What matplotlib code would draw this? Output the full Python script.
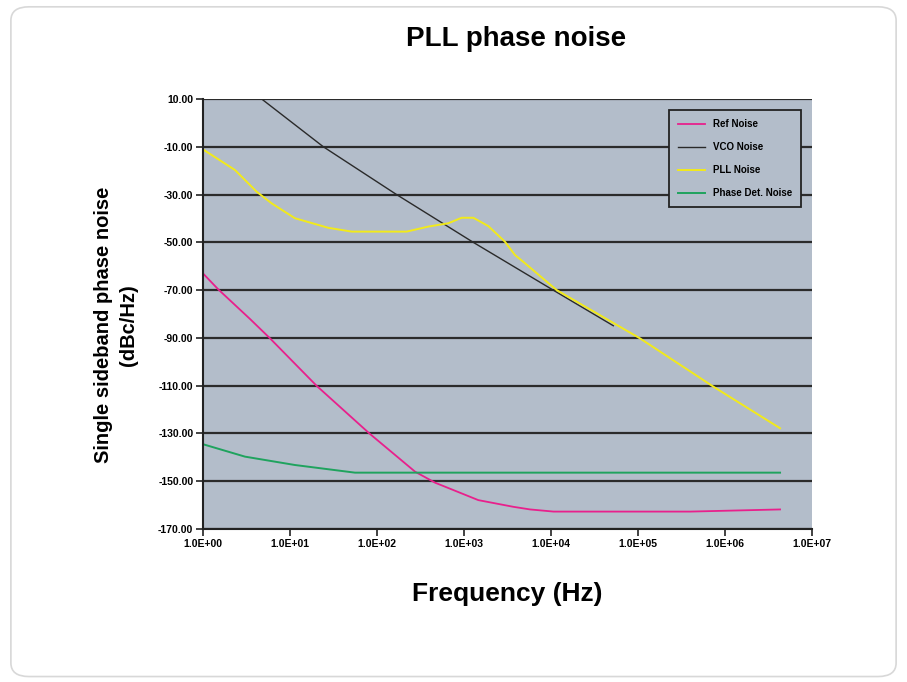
import matplotlib
matplotlib.use("Agg")
import matplotlib.pyplot as plt
from matplotlib.patches import FancyBboxPatch
from matplotlib.ticker import FixedLocator, FuncFormatter

plt.rcParams['font.family'] = ['Liberation Sans', 'DejaVu Sans']

# offset frequency (Hz) and phase noise (dBc/Hz)
ref_f = [1.0, 1.5, 3.5, 5.9, 20.3, 83, 274, 465, 1460, 3690, 5750, 10700, 398000, 4290000]
ref_db = [-63.0, -69.7, -82.2, -90.2, -110.1, -130.2, -146.0, -150.6, -157.9, -160.7, -161.8, -162.7, -162.7, -161.8]

vco_f = [4.73, 24.2, 168, 1279, 10600, 52000]
vco_db = [10.0, -10.0, -30.0, -50.0, -70.0, -84.9]

pll_f = [1.0, 2.33, 4.14, 6.17, 11.4, 27.5, 51.2, 219, 389, 661, 940, 1279, 1905, 2951,
         3855, 4786, 11640, 105400, 734500, 4290000]
pll_db = [-11.1, -19.7, -28.8, -33.7, -39.9, -43.9, -45.5, -45.5, -43.4, -42.0, -39.7, -39.7,
          -43.2, -49.7, -55.3, -58.1, -70.0, -90.2, -110.4, -127.8]

pd_f = [1.0, 3.04, 11.4, 55.8, 4290000]
pd_db = [-134.5, -139.7, -143.2, -146.4, -146.4]

y_ticks = [10, -10, -30, -50, -70, -90, -110, -130, -150, -170]
x_ticks = [1e0, 1e1, 1e2, 1e3, 1e4, 1e5, 1e6, 1e7]

fig = plt.figure(figsize=(9.07, 6.82), dpi=100)
frame = FancyBboxPatch((0.012, 0.008), 0.976, 0.982, boxstyle="round,pad=0,rounding_size=0.02",
                       transform=fig.transFigure, facecolor='white', edgecolor='#d8d8d8', lw=1.2,
                       zorder=-5)
fig.patches.append(frame)
ax = fig.add_axes([0.2238, 0.2243, 0.6715, 0.6305])
ax.set_facecolor('#b3bdca')

ax.plot(ref_f, ref_db, color='#e8208c', lw=1.3, label='Ref Noise')
ax.plot(vco_f, vco_db, color='#2a2a2a', lw=1.0, label='VCO Noise')
ax.plot(pll_f, pll_db, color='#f2ea1a', lw=1.4, label='PLL Noise')
ax.plot(pd_f, pd_db, color='#1fa35e', lw=1.4, label='Phase Det. Noise')

ax.set_xscale('log')
ax.set_xlim(1, 1e7)
ax.set_ylim(-170, 10)
ax.xaxis.set_major_locator(FixedLocator(x_ticks))
ax.xaxis.set_minor_locator(FixedLocator([]))
ax.xaxis.set_major_formatter(FuncFormatter(lambda v, p: '%.1E' % v))
ax.yaxis.set_major_locator(FixedLocator(y_ticks))
ax.yaxis.set_major_formatter(FuncFormatter(lambda v, p: '%.2f' % v))
ax.grid(axis='y', color='#2b2b2b', lw=1.6)
ax.set_axisbelow(True)
for s in ['top', 'right']:
    ax.spines[s].set_visible(False)
for s in ['left', 'bottom']:
    ax.spines[s].set_color('#222222')
    ax.spines[s].set_linewidth(1.5)
ax.tick_params(axis='both', direction='out', length=5, width=1.2, color='#222222',
               labelsize=7.5, pad=2)
for t in ax.get_xticklabels() + ax.get_yticklabels():
    t.set_fontweight('bold')

ax.set_title('PLL phase noise', fontsize=20, fontweight='bold', pad=38, x=0.514)
ax.set_xlabel('Frequency (Hz)', fontsize=19, fontweight='bold', labelpad=24)
ax.set_ylabel('Single sideband phase noise\n(dBc/Hz)', fontsize=14.5, fontweight='bold',
              linespacing=1.4)
ax.yaxis.set_label_coords(-0.107, 0.474)

leg = ax.legend(loc='upper right', bbox_to_anchor=(0.99, 0.985), fontsize=7, frameon=True,
                fancybox=False, handlelength=2.8, handletextpad=0.8, borderpad=0.9,
                labelspacing=1.35)
leg.get_frame().set_facecolor('#b3bdca')
leg.get_frame().set_edgecolor('#222222')
leg.get_frame().set_linewidth(1.3)
leg.get_frame().set_alpha(1)
for t in leg.get_texts():
    t.set_fontweight('bold')

fig.savefig('out.png', dpi=100)
